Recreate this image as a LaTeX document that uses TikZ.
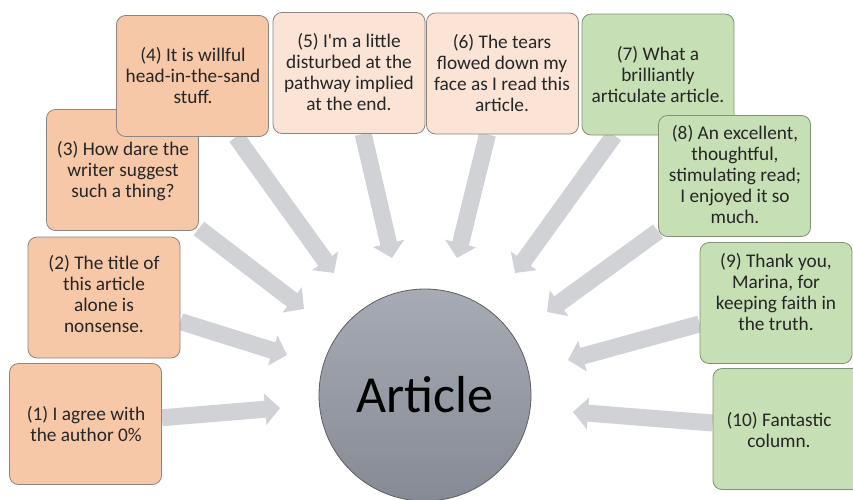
\documentclass[tikz,border=0pt]{standalone}
\usepackage{fontspec}
\setmainfont{Carlito}
\usetikzlibrary{arrows.meta}
\pgfdeclarelayer{bg}
\pgfsetlayers{bg,main}
\definecolor{orangeA}{HTML}{F7C8A8}
\definecolor{orangeB}{HTML}{FBE3D5}
\definecolor{greenA}{HTML}{C6DFB4}
\definecolor{arrowgray}{HTML}{D0D2D6}
\definecolor{boxedge}{HTML}{8C8580}
\definecolor{greenedge}{HTML}{7F9272}
\definecolor{textgray}{HTML}{262626}
\definecolor{circtop}{HTML}{A7ABB4}
\definecolor{circbot}{HTML}{858A94}
\definecolor{circedge}{HTML}{5E6066}
\begin{document}
\begin{tikzpicture}[x=1pt,y=-1pt,
  card/.style={rounded corners=9pt, minimum width=152pt, minimum height=121pt, inner sep=0pt, line width=0.8pt},
  warm/.style={card, fill=orangeA, draw=boxedge},
  pale/.style={card, fill=orangeB, draw=boxedge},
  cool/.style={card, fill=greenA, draw=greenedge},
  txt/.style={align=center, font=\fontsize{19.3}{21}\selectfont, text=textgray, inner sep=0pt},
  bigarrow/.style={draw=arrowgray, line width=17pt, -{Triangle[width=31pt,length=15pt]}}]
\useasboundingbox (0,0) rectangle (853,499);

% central circle
\node[circle, minimum size=212pt, inner sep=0pt, top color=circtop, bottom color=circbot,
      draw=circedge, line width=0.8pt, font=\fontsize{52}{60}\selectfont, text=black] (art) at (425,395) {Article};

% boxes (later ones drawn over earlier ones)
\node[warm] (b1) at (85.5,424) {};
\node[txt] (l1) at (86,424) {(1) I agree with\\the author 0\%};
\node[warm] (b2) at (104,297.5) {};
\node[txt] (l2) at (104,294) {(2) The title of\\this article\\alone is\\nonsense.};
\node[warm] (b3) at (122.5,170) {};
\node[txt] (l3) at (123,171) {(3) How dare the\\writer suggest\\such a thing?};
\node[warm] (b4) at (192.5,76) {};
\node[txt] (l4) at (193,75.5) {(4) It is willful\\head-in-the-sand\\stuff.};
\node[pale] (b5) at (349,73) {};
\node[txt] (l5) at (349,72) {(5) I\textquotesingle m a little\\disturbed at the\\pathway implied\\at the end.};
\node[pale] (b6) at (502.5,73.5) {};
\node[txt] (l6) at (502,73) {(6) The tears\\flowed down my\\face as I read this\\article.};
\node[cool] (b7) at (658,74.5) {};
\node[txt] (l7) at (658,75) {(7) What a\\brilliantly\\articulate article.};
\node[cool] (b8) at (734.5,176) {};
\node[txt] (l8) at (735,175) {(8) An excellent,\\thoughtful,\\stimulating read;\\I enjoyed it so\\much.};
\node[cool] (b9) at (776,303) {};
\node[txt] (l9) at (776,292) {(9) Thank you,\\Marina, for\\keeping faith in\\the truth.};
\node[cool] (b10) at (789,429) {};
\node[txt] (l10) at (779,430) {(10) Fantastic\\column.};

% arrow tips
\coordinate (t1) at (280,408);
\coordinate (t2) at (287,355);
\coordinate (t3) at (304,309);
\coordinate (t4) at (334,273);
\coordinate (t5) at (392,258);
\coordinate (t6) at (457,258);
\coordinate (t7) at (515,273);
\coordinate (t8) at (547,312);
\coordinate (t9) at (568,360);
\coordinate (t10) at (573,412);

\begin{pgfonlayer}{bg}
\foreach \i in {1,...,10} {
  \draw[bigarrow] (b\i) -- (t\i);
}
\end{pgfonlayer}
\end{tikzpicture}
\end{document}
